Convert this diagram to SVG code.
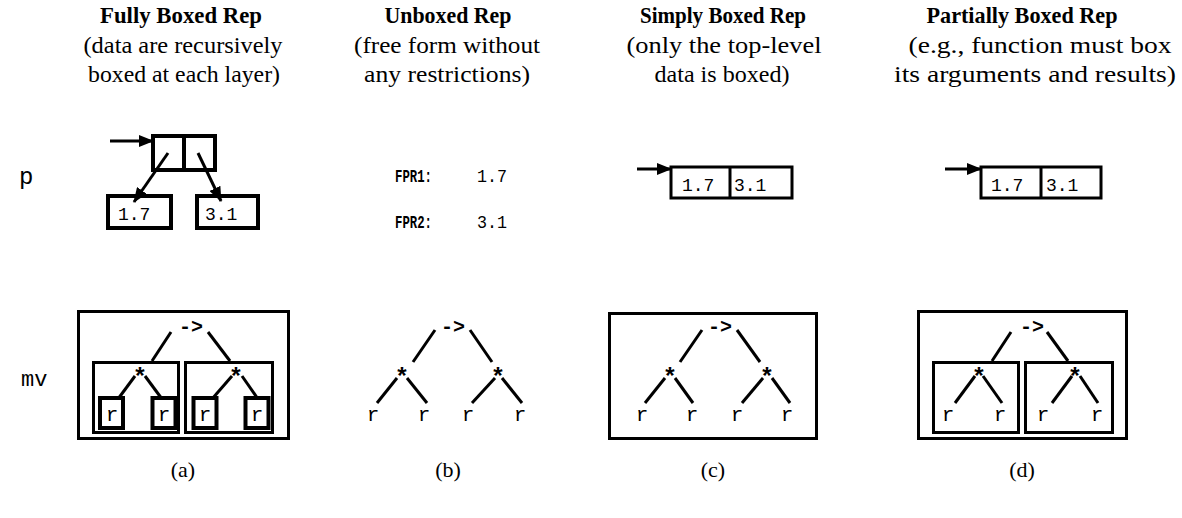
<svg xmlns="http://www.w3.org/2000/svg" width="1182" height="518" viewBox="0 0 1182 518">
<style>
.title{font-family:"Liberation Serif",serif;font-weight:bold;font-size:23px;text-anchor:middle;fill:#000}
.sub{font-family:"Liberation Serif",serif;font-size:23px;text-anchor:middle;fill:#000}
.cap{font-family:"Liberation Serif",serif;font-size:22px;text-anchor:middle;fill:#000}
.lbl{font-family:"Liberation Mono","DejaVu Sans Mono",monospace;fill:#000}
.op{font-family:"Liberation Mono","DejaVu Sans Mono",monospace;font-size:20px;font-weight:bold;fill:#000;text-anchor:middle}
.star{font-family:"Liberation Mono","DejaVu Sans Mono",monospace;font-size:24px;font-weight:bold;fill:#000;text-anchor:middle}
.r{font-family:"Liberation Mono","DejaVu Sans Mono",monospace;font-size:21px;fill:#000;text-anchor:middle}
.num{font-family:"Liberation Mono","DejaVu Sans Mono",monospace;font-size:18px;fill:#000}
.fpr{font-family:"Liberation Mono","DejaVu Sans Mono",monospace;font-size:18px;font-weight:bold;fill:#000}
.box{fill:none;stroke:#000;stroke-width:3}
.tbox{fill:none;stroke:#000;stroke-width:4}
.edge{stroke:#000;stroke-width:3;fill:none}
.arr{stroke:#000;stroke-width:3;fill:none;marker-end:url(#ah)}
</style>
<defs>
<marker id="ah" markerUnits="userSpaceOnUse" markerWidth="15" markerHeight="12" refX="14" refY="6" orient="auto" viewBox="0 0 15 12">
<path d="M0,0 L15,6 L0,12 z" fill="#000"/>
</marker>
</defs>
<rect width="1182" height="518" fill="#fff"/>

<g id="headers">
<text class="title" x="181" y="23" textLength="162" lengthAdjust="spacingAndGlyphs">Fully Boxed Rep</text>
<text class="sub" x="183" y="53" textLength="199" lengthAdjust="spacingAndGlyphs">(data are recursively</text>
<text class="sub" x="184" y="82" textLength="192" lengthAdjust="spacingAndGlyphs">boxed at each layer)</text>
<text class="title" x="448" y="23" textLength="127" lengthAdjust="spacingAndGlyphs">Unboxed Rep</text>
<text class="sub" x="447" y="53" textLength="186" lengthAdjust="spacingAndGlyphs">(free form without</text>
<text class="sub" x="447" y="82" textLength="166" lengthAdjust="spacingAndGlyphs">any restrictions)</text>
<text class="title" x="723" y="23" textLength="166" lengthAdjust="spacingAndGlyphs">Simply Boxed Rep</text>
<text class="sub" x="724" y="53" textLength="195" lengthAdjust="spacingAndGlyphs">(only the top-level</text>
<text class="sub" x="722" y="82" textLength="135" lengthAdjust="spacingAndGlyphs">data is boxed)</text>
<text class="title" x="1022" y="23" textLength="191" lengthAdjust="spacingAndGlyphs">Partially Boxed Rep</text>
<text class="sub" x="1040" y="53" textLength="263" lengthAdjust="spacingAndGlyphs">(e.g., function must box</text>
<text class="sub" x="1035" y="82" textLength="282" lengthAdjust="spacingAndGlyphs">its arguments and results)</text>
</g>

<g id="row-labels">
<text class="lbl" x="19" y="184" style="font-size:24px">p</text>
<text class="lbl" x="21" y="386" style="font-size:22px">mv</text>
</g>

<g id="a-p">
<rect class="tbox" x="153" y="136" width="62" height="34"/>
<line class="tbox" x1="184" y1="136" x2="184" y2="170"/>
<rect class="tbox" x="108" y="196" width="63" height="32"/>
<text class="num" x="118" y="220">1.7</text>
<rect class="tbox" x="197" y="196" width="61" height="32"/>
<text class="num" x="205" y="220">3.1</text>
</g>

<g id="b-p">
<text class="fpr" x="395" y="182" textLength="37" lengthAdjust="spacingAndGlyphs">FPR1:</text>
<text class="num" x="477" y="182" textLength="30" lengthAdjust="spacingAndGlyphs">1.7</text>
<text class="fpr" x="395" y="228" textLength="37" lengthAdjust="spacingAndGlyphs">FPR2:</text>
<text class="num" x="477" y="228" textLength="30" lengthAdjust="spacingAndGlyphs">3.1</text>
</g>

<g id="c-p">
<rect class="box" x="671" y="167" width="121" height="31"/>
<line class="box" x1="730" y1="167" x2="730" y2="198"/>
<text class="num" x="682" y="191">1.7</text>
<text class="num" x="734" y="191">3.1</text>
</g>

<g id="d-p">
<rect class="box" x="981" y="167" width="120" height="31"/>
<line class="box" x1="1041" y1="167" x2="1041" y2="198"/>
<text class="num" x="991" y="191">1.7</text>
<text class="num" x="1046" y="191">3.1</text>
</g>

<g id="a-mv">
<rect class="box" x="78.5" y="311.5" width="210" height="127"/>
<rect class="box" x="93.5" y="362.5" width="85" height="70"/>
<rect class="box" x="185.5" y="362.5" width="87" height="70"/>
<rect class="tbox" x="100" y="398" width="23" height="30"/>
<rect class="tbox" x="152.5" y="398" width="23" height="30"/>
<rect class="tbox" x="193.5" y="398" width="23" height="30"/>
<rect class="tbox" x="245.5" y="398" width="23" height="30"/>
<text class="op" x="191" y="333">-&gt;</text>
<text class="star" x="140" y="385">*</text>
<text class="star" x="236" y="385">*</text>
<text class="r" x="112" y="421">r</text>
<text class="r" x="164" y="421">r</text>
<text class="r" x="205" y="421">r</text>
<text class="r" x="257" y="421">r</text>
</g>

<g id="b-mv">
<text class="op" x="453" y="333">-&gt;</text>
<text class="star" x="402" y="385">*</text>
<text class="star" x="498" y="385">*</text>
<text class="r" x="373" y="421">r</text>
<text class="r" x="424" y="421">r</text>
<text class="r" x="468" y="421">r</text>
<text class="r" x="520" y="421">r</text>
</g>

<g id="c-mv">
<rect class="box" x="609.5" y="313.5" width="207" height="125"/>
<text class="op" x="720" y="333">-&gt;</text>
<text class="star" x="670" y="385">*</text>
<text class="star" x="767" y="385">*</text>
<text class="r" x="642" y="421">r</text>
<text class="r" x="692" y="421">r</text>
<text class="r" x="737" y="421">r</text>
<text class="r" x="787" y="421">r</text>
</g>

<g id="d-mv">
<rect class="box" x="918.5" y="311.5" width="208" height="127"/>
<rect class="box" x="933.5" y="362.5" width="85" height="70"/>
<rect class="box" x="1025.5" y="362.5" width="87" height="70"/>
<text class="op" x="1032" y="333">-&gt;</text>
<text class="star" x="979" y="385">*</text>
<text class="star" x="1075" y="385">*</text>
<text class="r" x="948" y="421">r</text>
<text class="r" x="1000" y="421">r</text>
<text class="r" x="1043" y="421">r</text>
<text class="r" x="1097" y="421">r</text>
</g>

<g id="captions">
<text class="cap" x="183" y="477">(a)</text>
<text class="cap" x="448" y="477">(b)</text>
<text class="cap" x="713" y="477">(c)</text>
<text class="cap" x="1022" y="477">(d)</text>
</g>

<g id="connectors">
<line class="arr" x1="110" y1="141" x2="153" y2="141"/>
<line class="arr" x1="168" y1="153" x2="134" y2="202"/>
<line class="arr" x1="198" y1="153" x2="221" y2="201"/>
<line class="arr" x1="637" y1="169" x2="671" y2="169"/>
<line class="arr" x1="945" y1="169" x2="981" y2="169"/>

<line class="edge" x1="171" y1="332" x2="152" y2="361"/>
<line class="edge" x1="208" y1="332" x2="230" y2="361"/>
<line class="edge" x1="135" y1="376" x2="118" y2="399"/>
<line class="edge" x1="145" y1="376" x2="162" y2="399"/>
<line class="edge" x1="232" y1="376" x2="212" y2="399"/>
<line class="edge" x1="242" y1="376" x2="258" y2="399"/>

<line class="edge" x1="435" y1="330" x2="413" y2="362"/>
<line class="edge" x1="470" y1="330" x2="492" y2="362"/>
<line class="edge" x1="397" y1="378" x2="377" y2="403"/>
<line class="edge" x1="407" y1="378" x2="427" y2="403"/>
<line class="edge" x1="495" y1="378" x2="472" y2="403"/>
<line class="edge" x1="502" y1="378" x2="522" y2="403"/>

<line class="edge" x1="702" y1="330" x2="680" y2="362"/>
<line class="edge" x1="737" y1="330" x2="760" y2="362"/>
<line class="edge" x1="665" y1="378" x2="645" y2="403"/>
<line class="edge" x1="675" y1="378" x2="693" y2="403"/>
<line class="edge" x1="763" y1="378" x2="742" y2="403"/>
<line class="edge" x1="772" y1="378" x2="790" y2="403"/>

<line class="edge" x1="1011" y1="332" x2="992" y2="361"/>
<line class="edge" x1="1047" y1="332" x2="1068" y2="361"/>
<line class="edge" x1="975" y1="376" x2="955" y2="403"/>
<line class="edge" x1="983" y1="376" x2="1002" y2="403"/>
<line class="edge" x1="1072" y1="376" x2="1052" y2="403"/>
<line class="edge" x1="1080" y1="376" x2="1098" y2="403"/>
</g>
</svg>
